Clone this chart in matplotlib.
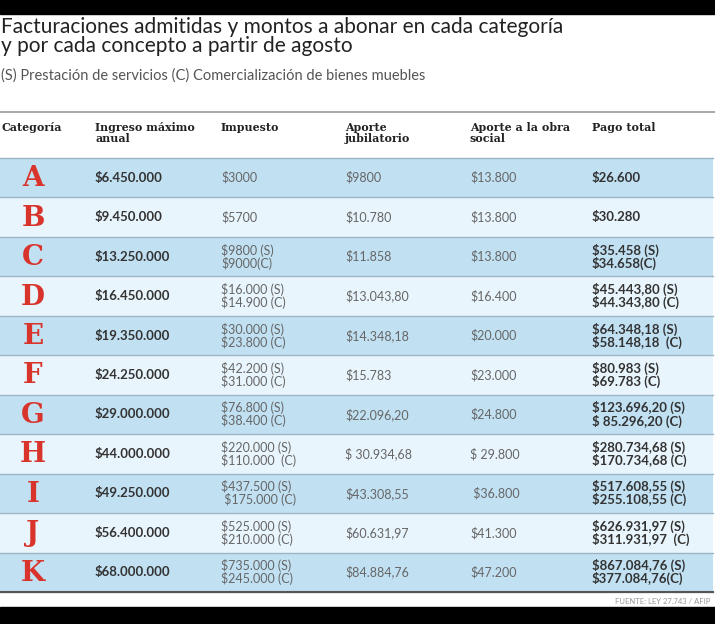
import matplotlib
matplotlib.use("Agg")
import matplotlib.pyplot as plt

# datos de la tabla
categorias = ["A", "B", "C", "D", "E", "F", "G", "H", "I", "J", "K"]
ingreso = ["$6.450.000", "$9.450.000", "$13.250.000", "$16.450.000", "$19.350.000",
           "$24.250.000", "$29.000.000", "$44.000.000", "$49.250.000", "$56.400.000",
           "$68.000.000"]
impuesto = ["$3000", "$5700", "$9800 (S)\n$9000(C)", "$16.000 (S)\n$14.900 (C)",
            "$30.000 (S)\n$23.800 (C)", "$42.200 (S)\n$31.000 (C)",
            "$76.800 (S)\n$38.400 (C)", "$220.000 (S)\n$110.000  (C)",
            "$437.500 (S)\n $175.000 (C)", "$525.000 (S)\n$210.000 (C)",
            "$735.000 (S)\n$245.000 (C)"]
jubilatorio = ["$9800", "$10.780", "$11.858", "$13.043,80", "$14.348,18", "$15.783",
               "$22.096,20", "$ 30.934,68", "$43.308,55", "$60.631,97", "$84.884,76"]
obra_social = ["$13.800", "$13.800", "$13.800", "$16.400", "$20.000", "$23.000",
               "$24.800", "$ 29.800", " $36.800", "$41.300", "$47.200"]
pago_total = ["$26.600", "$30.280", "$35.458 (S)\n$34.658(C)",
              "$45.443,80 (S)\n$44.343,80 (C)", "$64.348,18 (S)\n$58.148,18  (C)",
              "$80.983 (S)\n$69.783 (C)", "$123.696,20 (S)\n$ 85.296,20 (C)",
              "$280.734,68 (S)\n$170.734,68 (C)", "$517.608,55 (S)\n$255.108,55 (C)",
              "$626.931,97 (S)\n$311.931,97  (C)", "$867.084,76 (S)\n$377.084,76(C)"]
encabezados = ["Categoría", "Ingreso máximo\nanual", "Impuesto", "Aporte\njubilatorio",
               "Aporte a la obra\nsocial", "Pago total"]

W, H = 715, 624
fig = plt.figure(figsize=(W / 100, H / 100), dpi=100)
ax = fig.add_axes([0, 0, 1, 1])
ax.set_xlim(0, W)
ax.set_ylim(H, 0)
ax.axis("off")

sans = ["Lato", "DejaVu Sans"]
serif = ["DejaVu Serif"]

# franjas negras arriba y abajo
ax.axhspan(0, 14, color="black")
ax.axhspan(607, H, color="black")

ax.text(1, 27, "Facturaciones admitidas y montos a abonar en cada categoría",
        fontsize=15, family=sans, color="#222222", va="center")
ax.text(1, 46, "y por cada concepto a partir de agosto",
        fontsize=15, family=sans, color="#222222", va="center")
ax.text(1, 76, "(S) Prestación de servicios (C) Comercialización de bienes muebles",
        fontsize=10.5, family=sans, color="#555555", va="center")
ax.plot([0, W], [112, 112], color="#999999", lw=1.2)

cols_x = [2, 95, 221, 345, 470, 592]
for x, h in zip(cols_x, encabezados):
    ax.text(x, 122, h, family=serif, fontweight="bold", fontsize=7.9,
            color="#222222", va="top", linespacing=1.05)

top, paso = 158, 39.45
y_filas = [top + paso * (i + 0.5) for i in range(len(categorias))]
colores = ["#c1e1f3" if i % 2 == 0 else "#e9f5fc" for i in range(len(categorias))]
ax.barh(y_filas, W - 2, height=paso, left=0, color=colores, edgecolor="none")
for i in range(len(categorias) + 1):
    ax.plot([0, W - 2], [top + paso * i] * 2, color="#9db4c4", lw=1)
ax.plot([0, W - 2], [top + paso * len(categorias)] * 2, color="#555555", lw=1.5)

for i, y in enumerate(y_filas):
    ax.text(33, y + 1, categorias[i], family=serif, fontweight="bold", fontsize=20,
            color="#d8342b", ha="center", va="center")
    ax.text(95, y, ingreso[i], family=sans, fontweight="bold", fontsize=9.5,
            color="#333333", va="center")
    ax.text(221, y, impuesto[i], family=sans, fontsize=9, color="#666666",
            va="center", linespacing=1.0)
    ax.text(345, y, jubilatorio[i], family=sans, fontsize=9, color="#666666", va="center")
    ax.text(470, y, obra_social[i], family=sans, fontsize=9, color="#666666", va="center")
    ax.text(592, y, pago_total[i], family=sans, fontweight="bold", fontsize=9.5,
            color="#333333", va="center", linespacing=1.0)

ax.text(710, 601, "FUENTE: LEY 27.743 / AFIP", family=sans, fontsize=5.5,
        color="#999999", ha="right", va="center")

fig.savefig("out.png", dpi=100)
